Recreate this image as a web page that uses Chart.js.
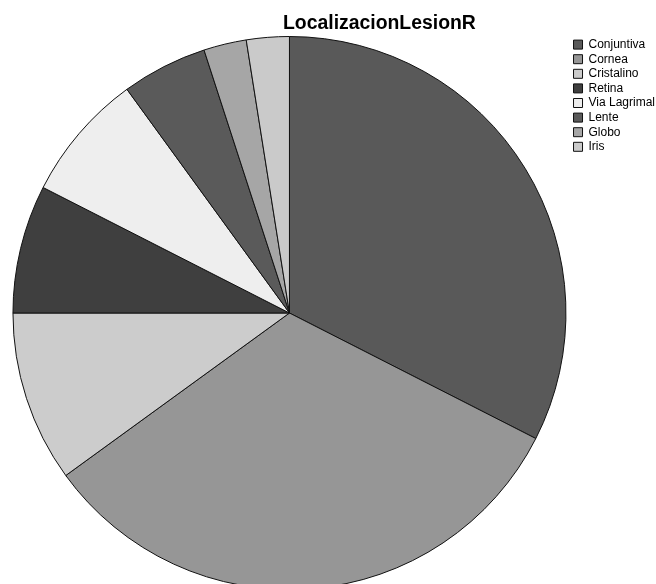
<!DOCTYPE html>
<html lang="es">
<head>
<meta charset="UTF-8">
<title>LocalizacionLesionR</title>
<script src="https://cdn.jsdelivr.net/npm/chart.js@4"></script>
<style>
  html, body { margin: 0; padding: 0; background: #fff; overflow: hidden; width: 656px; height: 584px; }
  #wrap { position: absolute; left: 0; top: 0; width: 656px; height: 600px; }
  #title { position: absolute; top: 11px; left: 283px; font: bold 19.4px "Liberation Sans", Arial, sans-serif; color: #000; white-space: nowrap; }
</style>
</head>
<body>
<div id="wrap">
  <canvas id="pie" width="656" height="590"></canvas>
</div>
<div id="title">LocalizacionLesionR</div>
<script>
const categories = ["Conjuntiva", "Cornea", "Cristalino", "Retina", "Via Lagrimal", "Lente", "Globo", "Iris"]
const counts = [13, 13, 4, 3, 3, 2, 1, 1]
const colors = ["#595959", "#969696", "#cccccc", "#3f3f3f", "#eeeeee", "#5a5a5a", "#a6a6a6", "#cacaca"]

const ctx = document.getElementById("pie").getContext("2d")
new Chart(ctx, {
  type: "pie",
  data: {
    labels: categories,
    datasets: [{
      data: counts,
      backgroundColor: colors,
      borderColor: "#111",
      borderWidth: 1
    }]
  },
  options: {
    responsive: false,
    animation: false,
    layout: { padding: { left: 8, top: 36, right: -9, bottom: 0 } },
    plugins: {
      tooltip: { enabled: false },
      legend: {
        position: "right",
        align: "start",
        labels: {
          boxWidth: 9,
          boxHeight: 9,
          padding: 2.6,
          color: "#000",
          font: { family: "'Liberation Sans', Arial, sans-serif", size: 12 }
        }
      }
    }
  }
})
</script>
</body>
</html>
